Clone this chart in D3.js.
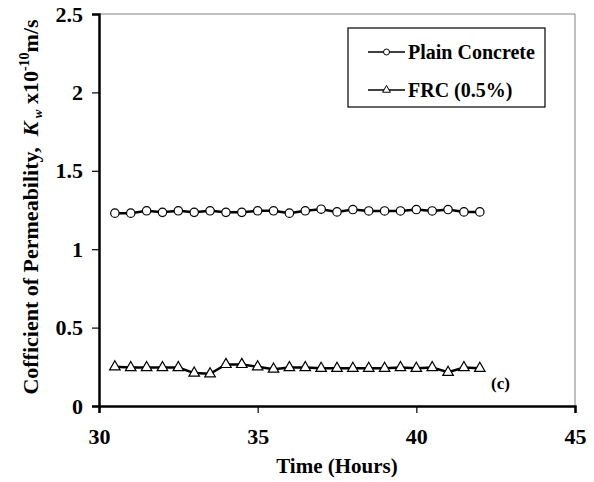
<!DOCTYPE html>
<meta charset="utf-8">
<html>
<head>
<title>Permeability</title>
<style>
    body { margin: 0; background: #fff; }
    svg text { font-family: "Times New Roman", Tinos, "Liberation Serif", "DejaVu Serif", serif !important; font-weight: bold; fill: #000; }
</style>
<script src="https://cdn.jsdelivr.net/npm/d3@7/dist/d3.min.js"></script>
</head>
<body>
<script>

    var width = 594, height = 482;
    var margin = {top: 14, right: 19, bottom: 76, left: 99};

    // time in hours
    var hours = [30.5, 31, 31.5, 32, 32.5, 33, 33.5, 34, 34.5, 35, 35.5, 36,
                 36.5, 37, 37.5, 38, 38.5, 39, 39.5, 40, 40.5, 41, 41.5, 42];
    var plain = [1.23, 1.23, 1.245, 1.235, 1.245, 1.235, 1.245, 1.235, 1.235, 1.245, 1.245, 1.23,
                 1.245, 1.255, 1.238, 1.253, 1.244, 1.244, 1.244, 1.253, 1.244, 1.253, 1.238, 1.238];
    var frc   = [0.25, 0.245, 0.245, 0.245, 0.245, 0.21, 0.205, 0.265, 0.265, 0.25, 0.235, 0.245,
                 0.245, 0.24, 0.24, 0.24, 0.24, 0.24, 0.245, 0.24, 0.245, 0.215, 0.245, 0.24];
    var xTicks = [30, 35, 40, 45];
    var yTicks = [0, 0.5, 1, 1.5, 2, 2.5];

    var x = d3.scaleLinear().domain([30, 45]).range([margin.left, width - margin.right]);
    var y = d3.scaleLinear().domain([0, 2.5]).range([height - margin.bottom, margin.top]);

    var svg = d3.select("body").append("svg")
        .attr("width", width)
        .attr("height", height);

    // thin frame on top and right
    svg.append("line")
        .attr("x1", x(30)).attr("x2", x(45)).attr("y1", y(2.5)).attr("y2", y(2.5))
        .attr("stroke", "#808080").attr("stroke-width", 1);
    svg.append("line")
        .attr("x1", x(45)).attr("x2", x(45)).attr("y1", y(2.5)).attr("y2", y(0))
        .attr("stroke", "#808080").attr("stroke-width", 1);

    var xAxis = svg.append("g")
        .attr("transform", "translate(0," + y(0) + ")")
        .call(d3.axisBottom(x).tickValues(xTicks).tickSize(7).tickPadding(15).tickFormat(d3.format("d")));
    var yAxis = svg.append("g")
        .attr("transform", "translate(" + x(30) + ",0)")
        .call(d3.axisLeft(y).tickValues(yTicks).tickSize(7).tickPadding(9).tickFormat(function(d) { return d; }));

    [xAxis, yAxis].forEach(function(g) {
        g.attr("font-family", null).attr("font-size", 22);
        g.select(".domain").attr("stroke", "#000").attr("stroke-width", 2.5);
        g.selectAll(".tick line").attr("stroke", "#000").attr("stroke-width", 1.2);
        g.selectAll(".tick text").style("font-size", "22px");
    });

    // series
    var line = d3.line().x(function(d) { return x(d[0]); }).y(function(d) { return y(d[1]); });
    var plainPts = hours.map(function(h, i) { return [h, plain[i]]; });
    var frcPts = hours.map(function(h, i) { return [h, frc[i]]; });

    svg.append("path").datum(plainPts).attr("d", line)
        .attr("fill", "none").attr("stroke", "#000").attr("stroke-width", 2.5);
    svg.append("path").datum(frcPts).attr("d", line)
        .attr("fill", "none").attr("stroke", "#000").attr("stroke-width", 2.5);

    svg.selectAll("circle.pc").data(plainPts).enter().append("circle")
        .attr("class", "pc")
        .attr("cx", function(d) { return x(d[0]); })
        .attr("cy", function(d) { return y(d[1]); })
        .attr("r", 4.2)
        .attr("fill", "#fff").attr("stroke", "#000").attr("stroke-width", 1.2);

    var tri = d3.symbol().type(d3.symbolTriangle).size(48);
    svg.selectAll("path.frc").data(frcPts).enter().append("path")
        .attr("class", "frc")
        .attr("d", tri)
        .attr("transform", function(d) { return "translate(" + x(d[0]) + "," + y(d[1]) + ")"; })
        .attr("fill", "#fff").attr("stroke", "#000").attr("stroke-width", 1.2);

    // legend
    var lg = svg.append("g");
    lg.append("rect")
        .attr("x", 348).attr("y", 28).attr("width", 197).attr("height", 79)
        .attr("fill", "#fff").attr("stroke", "#000").attr("stroke-width", 1.2);
    var legendItems = [{label: "Plain Concrete", sym: "circle", y: 52},
                       {label: "FRC (0.5%)", sym: "tri", y: 90}];
    legendItems.forEach(function(it) {
        lg.append("line").attr("x1", 368).attr("x2", 405).attr("y1", it.y).attr("y2", it.y)
            .attr("stroke", "#000").attr("stroke-width", 1.5);
        if (it.sym == "circle")
            lg.append("circle").attr("cx", 386.5).attr("cy", it.y).attr("r", 3)
                .attr("fill", "#fff").attr("stroke", "#000").attr("stroke-width", 1);
        else
            lg.append("path").attr("d", d3.symbol().type(d3.symbolTriangle).size(26))
                .attr("transform", "translate(386.5," + it.y + ")")
                .attr("fill", "#fff").attr("stroke", "#000").attr("stroke-width", 1);
        lg.append("text").attr("x", 408).attr("y", it.y + 6.5)
            .style("font-size", "20px").text(it.label);
    });

    svg.append("text").attr("x", 491).attr("y", 389)
        .style("font-size", "17px").text("(c)");

    // axis titles
    svg.append("text")
        .attr("x", (x(30) + x(45)) / 2).attr("y", 473)
        .attr("text-anchor", "middle")
        .style("font-size", "21px")
        .text("Time (Hours)");

    var yt = svg.append("text")
        .attr("transform", "translate(38,207) rotate(-90)")
        .attr("text-anchor", "middle")
        .style("font-size", "22px");
    yt.append("tspan").text("Cofficient of Permeability,\u00a0\u00a0");
    yt.append("tspan").style("font-style", "italic").text("K");
    yt.append("tspan").attr("dy", 4).style("font-size", "13px").style("font-style", "italic").text(" w");
    yt.append("tspan").attr("dy", -4).text(" x10");
    yt.append("tspan").attr("dy", -9).style("font-size", "14px").text("-10");
    yt.append("tspan").attr("dy", 9).text("m/s");

</script>
</body>
</html>
